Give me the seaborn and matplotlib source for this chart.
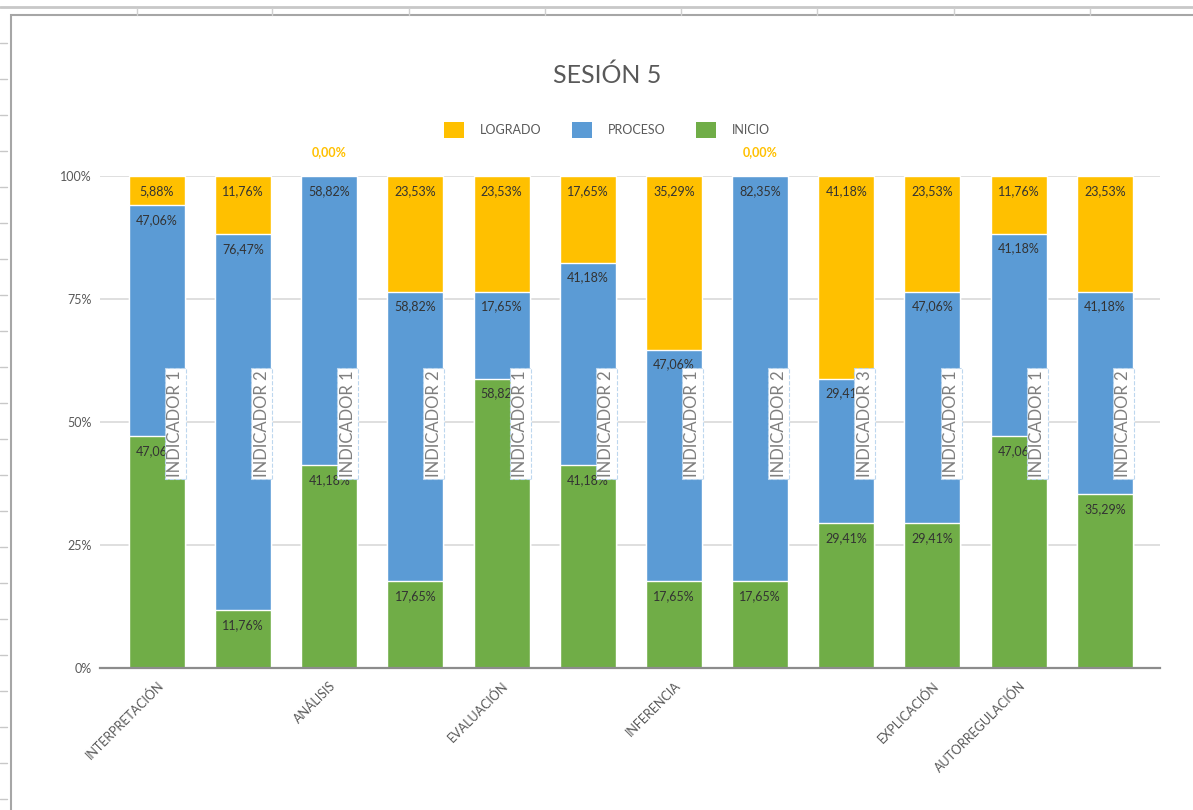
import matplotlib
matplotlib.use("Agg")
import matplotlib.pyplot as plt
import seaborn as sns
import pandas as pd
from matplotlib.patches import Patch, Rectangle
from matplotlib.lines import Line2D

# ---------------- data ----------------
competencias = ["INTERPRETACIÓN", "", "ANÁLISIS", "", "EVALUACIÓN", "", "INFERENCIA",
                "", "", "EXPLICACIÓN", "AUTORREGULACIÓN", ""]
indicadores = ["INDICADOR 1", "INDICADOR 2", "INDICADOR 1", "INDICADOR 2", "INDICADOR 1",
               "INDICADOR 2", "INDICADOR 1", "INDICADOR 2", "INDICADOR 3", "INDICADOR 1",
               "INDICADOR 1", "INDICADOR 2"]
inicio = [47.06, 11.76, 41.18, 17.65, 58.82, 41.18, 17.65, 17.65, 29.41, 29.41, 47.06, 35.29]
proceso = [47.06, 76.47, 58.82, 58.82, 17.65, 41.18, 47.06, 82.35, 29.41, 47.06, 41.18, 41.18]
logrado = [5.88, 11.76, 0.00, 23.53, 23.53, 17.65, 35.29, 0.00, 41.18, 23.53, 11.76, 23.53]
series = ["LOGRADO", "PROCESO", "INICIO"]
colores = {"LOGRADO": "#FFC000", "PROCESO": "#5B9BD5", "INICIO": "#70AD47"}
titulo = "SESIÓN 5"
yticks = [0, 25, 50, 75, 100]

# ---------------- figure ----------------
sns.set_theme(style="white")
plt.rcParams["font.family"] = ["Lato", "DejaVu Sans"]

W, H = 1193, 810
fig = plt.figure(figsize=(W / 100, H / 100), dpi=100)

def fx(x):
    return x / W

def fy(y):
    return 1 - y / H

# spreadsheet background decorations
fig.add_artist(Line2D([0, 1], [fy(7), fy(7)], color="#C8C8C8", lw=2, transform=fig.transFigure))
for cx in [137, 272, 409, 545, 681, 817, 954, 1090]:
    fig.add_artist(Line2D([fx(cx), fx(cx)], [fy(8), fy(15)], color="#D0D0D0", lw=1,
                          transform=fig.transFigure))
for ry in range(43, 810, 36):
    fig.add_artist(Line2D([0, fx(7)], [fy(ry), fy(ry)], color="#C8C8C8", lw=1,
                          transform=fig.transFigure))
fig.add_artist(Rectangle((fx(11), fy(812)), 1.0, fy(15) - fy(812), fill=False,
                         ec="#A6A6A6", lw=1.5, transform=fig.transFigure))

ax = fig.add_axes([fx(100), fy(668), fx(1160) - fx(100), fy(176) - fy(668)])

ids = [f"b{i}" for i in range(len(inicio))]
df = pd.DataFrame({"id": ids, "inicio": inicio, "proceso": proceso, "logrado": logrado})
df["top_inicio"] = df["inicio"]
df["top_proceso"] = df["inicio"] + df["proceso"]
df["top_logrado"] = df["top_proceso"] + df["logrado"]

bw = 0.65
sns.barplot(data=df, x="id", y="top_logrado", order=ids, color=colores["LOGRADO"],
            saturation=1, width=bw, ax=ax, zorder=2)
sns.barplot(data=df, x="id", y="top_proceso", order=ids, color=colores["PROCESO"],
            saturation=1, width=bw, ax=ax, zorder=2)
sns.barplot(data=df, x="id", y="top_inicio", order=ids, color=colores["INICIO"],
            saturation=1, width=bw, ax=ax, zorder=2)

ax.set_xlim(-0.66, len(ids) - 1 + 0.64)
ax.set_ylim(0, 100)
ax.set_yticks(yticks)
ax.set_yticklabels([f"{t}%" for t in yticks], fontsize=9, color="#595959")
ax.yaxis.grid(True, color="#D9D9D9", lw=1.2)
ax.set_axisbelow(True)
ax.set_xlabel("")
ax.set_ylabel("")
for s in ["top", "right", "left"]:
    ax.spines[s].set_visible(False)
ax.spines["bottom"].set_color("#8C8C8C")
ax.spines["bottom"].set_linewidth(1.6)
ax.spines["bottom"].set_zorder(4)
ax.tick_params(axis="both", length=0, pad=6)

ax.set_xticks(range(len(ids)))
ax.set_xticklabels(competencias, rotation=45, ha="right", va="top", rotation_mode="anchor",
                   fontsize=9, color="#595959")
ax.tick_params(axis="x", pad=8)

def fmt(v):
    return f"{v:.2f}".replace(".", ",") + "%"

txt_col = "#333333"
for i in range(len(ids)):
    tops = [df["top_inicio"][i], df["top_proceso"][i], df["top_logrado"][i]]
    vals = [inicio[i], proceso[i], logrado[i]]
    for k, (t, v) in enumerate(zip(tops, vals)):
        if v > 0:
            ax.text(i, t - 3.0, fmt(v), ha="center", va="center", fontsize=9,
                    color=txt_col, zorder=3)
        else:
            ax.text(i, 104.9, fmt(v), ha="center", va="center", fontsize=9,
                    color=colores["LOGRADO"], fontweight="bold", zorder=3, clip_on=False)
    ax.text(i + 0.215, 49.7, indicadores[i], rotation=90, ha="center", va="center",
            fontsize=12, color="#7F7F7F", zorder=6,
            bbox=dict(boxstyle="square,pad=0.15", fc="white", ec="#BDD7EE", lw=0.8, ls="--"))

# title & legend
fig.text(0.509, fy(75), titulo, fontsize=18, color="#595959", ha="center", va="center")
handles = [Patch(fc=colores[s], ec="none", label=s) for s in series]
leg = fig.legend(handles=handles, loc="center", bbox_to_anchor=(0.509, fy(130)), ncol=3,
                 frameon=False, fontsize=9, handlelength=1.6, handleheight=1.6,
                 handletextpad=1.3, columnspacing=2.4)
for t in leg.get_texts():
    t.set_color("#595959")

fig.savefig("out.png", dpi=100)
